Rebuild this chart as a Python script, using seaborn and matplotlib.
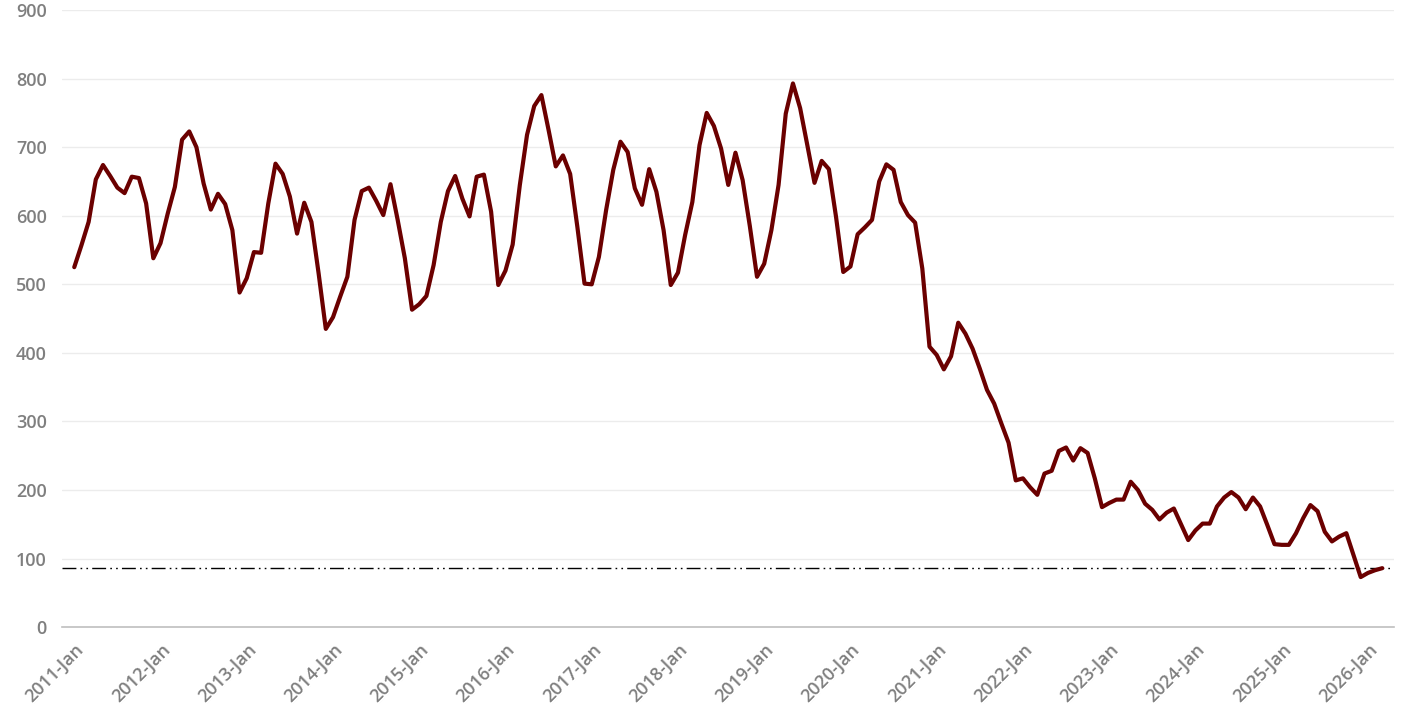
import numpy as np
import pandas as pd
import matplotlib
matplotlib.use("Agg")
import matplotlib.pyplot as plt
import seaborn as sns

# monthly values, 2011-Jan .. 2026-Mar
years = list(range(2011, 2027))
months = ["Jan", "Feb", "Mar", "Apr", "May", "Jun", "Jul", "Aug", "Sep", "Oct", "Nov", "Dec"]

values = [
    525, 557, 591, 653, 674, 658, 641, 633, 657, 655, 618, 538,  # 2011
    560, 603, 642, 711, 723, 700, 647, 609, 632, 617, 579, 488,  # 2012
    509, 547, 546, 618, 676, 661, 628, 574, 619, 591, 516, 435,  # 2013
    452, 482, 511, 594, 636, 641, 622, 601, 646, 594, 538, 463,  # 2014
    471, 483, 528, 591, 636, 658, 625, 599, 657, 660, 606, 499,  # 2015
    520, 558, 645, 718, 760, 776, 725, 672, 688, 661, 584, 501,  # 2016
    500, 540, 608, 667, 708, 693, 640, 616, 668, 635, 579, 499,  # 2017
    517, 572, 620, 703, 750, 731, 698, 645, 692, 652, 585, 511,  # 2018
    530, 579, 645, 749, 793, 757, 703, 648, 680, 668, 598, 518,  # 2019
    526, 573, 583, 594, 650, 675, 667, 620, 601, 590, 523, 409,  # 2020
    397, 376, 395, 444, 428, 406, 377, 346, 326, 297, 269, 214,  # 2021
    217, 204, 193, 224, 228, 257, 262, 243, 261, 254, 217, 175,  # 2022
    181, 186, 186, 212, 200, 180, 171, 157, 167, 173, 150, 127,  # 2023
    141, 151, 151, 176, 189, 197, 189, 172, 189, 176, 149, 121,  # 2024
    120, 120, 137, 159, 178, 169, 139, 125, 132, 137, 105, 73,   # 2025
    79, 83, 86,                                                  # 2026
]
ref_level = 86

labels = [f"{y}-{m}" for y in years for m in months][:len(values)]
df = pd.DataFrame({"idx": np.arange(len(values)), "month": labels, "value": values})

sns.set_style("white")
plt.rcParams["font.family"] = ["Open Sans", "DejaVu Sans"]

fig = plt.figure(figsize=(14.1, 7.2), dpi=100)
ax = fig.add_axes([0.044, 0.129, 0.945, 0.857])

sns.lineplot(data=df, x="idx", y="value", color="#6b0000", linewidth=3, ax=ax)
ax.axhline(ref_level, color="black", linewidth=1, linestyle=(0, (10, 3, 1.2, 3, 1.2, 3)), zorder=1)

ax.set_xlim(-1.7, len(values) - 1 + 1.7)
ax.set_ylim(0, 900)
ax.set_yticks(range(0, 901, 100))
ax.yaxis.grid(True, color="#ececec", linewidth=1)
ax.set_axisbelow(True)

tick_pos = df["idx"][::12]
ax.set_xticks(tick_pos)
ax.set_xticklabels(df["month"][::12], rotation=45, ha="right", rotation_mode="anchor")

for s in ["top", "right", "left"]:
    ax.spines[s].set_visible(False)
ax.spines["bottom"].set_color("#bfbfbf")
ax.spines["bottom"].set_linewidth(1.2)

ax.tick_params(axis="both", length=0, labelsize=13, labelcolor="#7f7f7f")
ax.tick_params(axis="y", pad=11)
ax.tick_params(axis="x", pad=9)
for t in ax.get_xticklabels() + ax.get_yticklabels():
    t.set_fontweight("semibold")

ax.set_xlabel("")
ax.set_ylabel("")

fig.savefig("out.png", dpi=100)
